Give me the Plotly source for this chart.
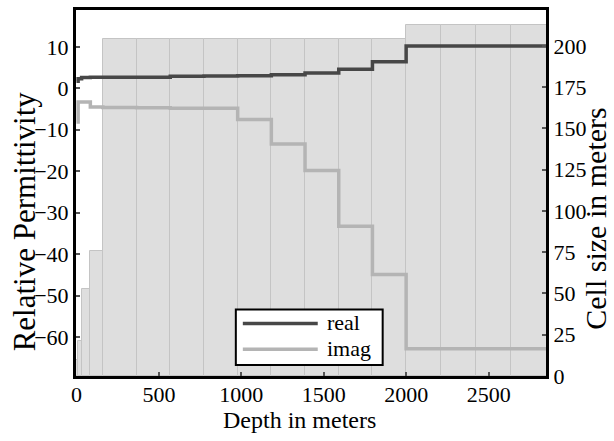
import plotly.graph_objects as go
import numpy as np

# ---- data ----
cell_sizes = [10, 21, 53, 76, 204.4, 204.4, 204.4, 204.4, 204.4, 204.4, 204.4, 204.4, 204.4, 213, 213, 213, 213]
real_vals = [1.7, 2.3, 2.6, 2.7, 2.7, 2.7, 2.9, 3.0, 3.05, 3.3, 3.7, 4.6, 6.4, 10.2, 10.2, 10.2, 10.2]
imag_vals = [-8.1, -3.3, -3.3, -4.5, -4.6, -4.7, -4.8, -4.8, -7.5, -13.4, -19.8, -33.3, -44.9, -62.8, -62.8, -62.8, -62.8]
x_ticks = [0, 500, 1000, 1500, 2000, 2500]
left_ticks = [10, 0, -10, -20, -30, -40, -50, -60]
right_ticks = [0, 25, 50, 75, 100, 125, 150, 175, 200]
series_names = ["real", "imag"]
series_colors = ["#474747", "#b4b4b4"]

edges = np.concatenate([[0], np.cumsum(cell_sizes)])
centers = (edges[:-1] + edges[1:]) / 2

FONT = '"Liberation Serif", "Times New Roman", serif'

W, H = 614, 441
L, R, T, B = 76, 67.5, 7, 65
PW, PH = W - L - R, H - T - B


def px(x):
    return (x - L) / PW


def py(y):
    return (H - B - y) / PH


fig = go.Figure()
fig.add_trace(go.Bar(x=centers, y=cell_sizes, width=cell_sizes, yaxis="y",
                     marker=dict(color="#dedede", line=dict(color="#c4c4c4", width=1)),
                     showlegend=False))
for name, col, vals in zip(series_names, series_colors, [real_vals, imag_vals]):
    fig.add_trace(go.Scatter(x=edges, y=vals + [vals[-1]], yaxis="y2", mode="lines",
                             line=dict(color=col, width=3.5, shape="hv"), name=name, showlegend=False))

axis_common = dict(showgrid=False, zeroline=False, showline=True, linecolor="black", linewidth=3,
                   ticks="inside", ticklen=4, tickwidth=2, tickcolor="#555")

tf = dict(family=FONT, size=22, color="black")

shapes = [
    dict(type="rect", xref="paper", yref="paper", x0=px(236), x1=px(383), y0=py(365), y1=py(309),
         line=dict(color="black", width=2), fillcolor="white", layer="above"),
]
annotations = [
    dict(text="Depth in meters", xref="paper", yref="paper", x=px(300), y=py(420),
         showarrow=False, font=dict(family=FONT, size=24), xanchor="center", yanchor="middle"),
    dict(text="Relative Permittivity", xref="paper", yref="paper", x=px(24), y=py(220),
         showarrow=False, textangle=-90, font=dict(family=FONT, size=31), xanchor="center", yanchor="middle"),
    dict(text="Cell size in meters", xref="paper", yref="paper", x=px(596), y=py(217),
         showarrow=False, textangle=-90, font=dict(family=FONT, size=30), xanchor="center", yanchor="middle"),
]
for i, (name, col) in enumerate(zip(series_names, series_colors)):
    yy = 323 + i * 26
    shapes.append(dict(type="line", xref="paper", yref="paper", x0=px(243), x1=px(318), y0=py(yy), y1=py(yy),
                       line=dict(color=col, width=3.5), layer="above"))
    annotations.append(dict(text=name, xref="paper", yref="paper", x=px(325), y=py(yy - 1),
                            showarrow=False, font=dict(family=FONT, size=22, color="black"),
                            xanchor="left", yanchor="middle"))

fig.update_layout(
    width=W, height=H,
    margin=dict(l=L, r=R, t=T, b=B),
    paper_bgcolor="white", plot_bgcolor="white",
    font=dict(family=FONT, color="black", size=22),
    bargap=0,
    xaxis=dict(range=[-3, 2848], tickvals=x_ticks, mirror=True, tickfont=tf, ticklabelstandoff=-3,
               **axis_common),
    yaxis=dict(range=[0, 221.8], side="right", tickvals=right_ticks, tickfont=tf, **axis_common),
    yaxis2=dict(range=[-69.4, 18.9], side="left", overlaying="y", tickvals=left_ticks, tickfont=tf,
                **axis_common),
    showlegend=False,
    shapes=shapes,
    annotations=annotations,
)

fig.write_html("out.html")
